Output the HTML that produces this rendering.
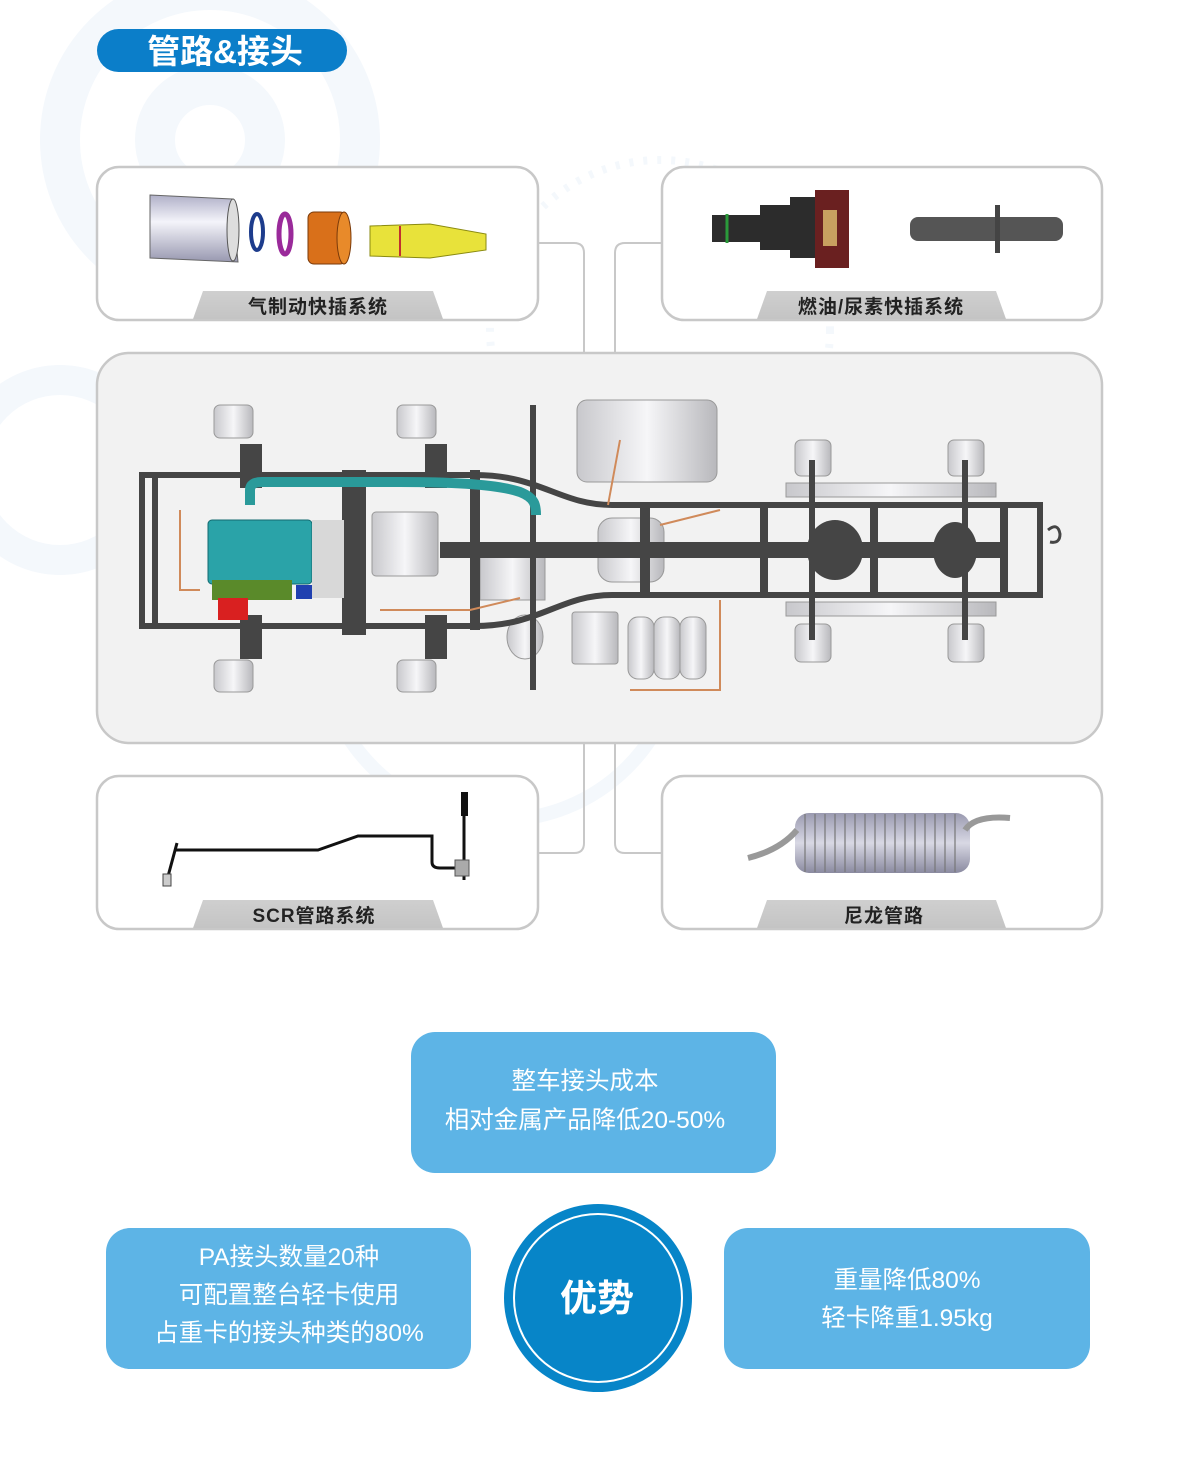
<!DOCTYPE html>
<html><head><meta charset="utf-8"><style>
body{margin:0;background:#fff;width:1200px;height:1478px;overflow:hidden;font-family:"Liberation Sans","Noto Sans CJK SC",sans-serif}
svg{display:block}
</style></head><body>
<svg width="1200" height="1478" viewBox="0 0 1200 1478" xmlns="http://www.w3.org/2000/svg" font-family="'Liberation Sans','Noto Sans CJK SC',sans-serif">
<defs>
<linearGradient id="tab" x1="0" y1="0" x2="0" y2="1"><stop offset="0" stop-color="#cfcfcf"/><stop offset="1" stop-color="#c4c4c4"/></linearGradient>
<linearGradient id="cyl" x1="0" y1="0" x2="0" y2="1"><stop offset="0" stop-color="#b0b0c8"/><stop offset=".4" stop-color="#f4f4fa"/><stop offset="1" stop-color="#9898b0"/></linearGradient>
<linearGradient id="wh" x1="0" y1="0" x2="1" y2="0"><stop offset="0" stop-color="#c8c8cc"/><stop offset=".5" stop-color="#f6f6f8"/><stop offset="1" stop-color="#b8b8bc"/></linearGradient>
<linearGradient id="coil" x1="0" y1="0" x2="0" y2="1"><stop offset="0" stop-color="#9a9ab0"/><stop offset=".5" stop-color="#d8d8e4"/><stop offset="1" stop-color="#8a8aa0"/></linearGradient>
</defs>
<!-- faint background gears -->
<g fill="none" stroke="#f4f8fc">
<circle cx="210" cy="140" r="150" stroke-width="40"/>
<circle cx="210" cy="140" r="55" stroke-width="40"/>
<circle cx="660" cy="330" r="170" stroke-width="8" stroke-dasharray="4 10"/>
<circle cx="60" cy="470" r="90" stroke-width="30"/>
<circle cx="500" cy="640" r="180" stroke-width="14"/>
</g>
<!-- title -->
<rect x="97" y="29" width="250" height="43" rx="21.5" fill="#0b7ec9"/>
<text x="225" y="63" text-anchor="middle" font-size="33" font-weight="bold" fill="#fff">管路&amp;接头</text>
<!-- connectors -->
<g fill="none" stroke="#c8c8c8" stroke-width="2">
<path d="M538 243 H574 Q584 243 584 253 V353"/>
<path d="M662 243 H625 Q615 243 615 253 V353"/>
<path d="M584 743 V843 Q584 853 574 853 H538"/>
<path d="M615 743 V843 Q615 853 625 853 H662"/>
</g>
<!-- boxes -->
<g fill="#fff" stroke="#c8c8c8" stroke-width="2.5">
<rect x="97" y="167" width="441" height="153" rx="22"/>
<rect x="662" y="167" width="440" height="153" rx="22"/>
<rect x="97" y="776" width="441" height="153" rx="22"/>
<rect x="662" y="776" width="440" height="153" rx="22"/>
</g>
<rect x="97" y="353" width="1005" height="390" rx="32" fill="#f2f2f2" stroke="#c8c8c8" stroke-width="2.5"/>
<!-- tabs -->
<g fill="url(#tab)">
<path d="M203 291 H433 L443 319 H193 Z"/>
<path d="M767 291 H996 L1006 319 H757 Z"/>
<path d="M203 900 H433 L443 928 H193 Z"/>
<path d="M767 900 H996 L1006 928 H757 Z"/>
</g>
<g font-size="19" font-weight="bold" fill="#222" text-anchor="middle" letter-spacing="1">
<text x="318" y="313">气制动快插系统</text>
<text x="881" y="313">燃油/尿素快插系统</text>
<text x="314" y="922">SCR管路系统</text>
<text x="884" y="922">尼龙管路</text>
</g>
<!-- box1 parts -->
<path d="M150 195 L232 199 L238 262 L150 258 Z" fill="url(#cyl)" stroke="#666" stroke-width="1"/>
<ellipse cx="233" cy="230" rx="6" ry="31" fill="#ddd" stroke="#555"/>
<ellipse cx="257" cy="232" rx="6" ry="18" fill="none" stroke="#1d3c8c" stroke-width="4"/>
<ellipse cx="285" cy="234" rx="6" ry="20" fill="none" stroke="#9a2a9a" stroke-width="5"/>
<rect x="308" y="212" width="38" height="52" rx="6" fill="#d9701a" stroke="#7a3a0a"/>
<ellipse cx="344" cy="238" rx="7" ry="26" fill="#e88a2a" stroke="#7a3a0a"/>
<path d="M370 226 L430 224 L486 234 L486 250 L430 258 L370 256 Z" fill="#e8e23a" stroke="#8a8a10"/>
<line x1="400" y1="226" x2="400" y2="256" stroke="#c03030" stroke-width="2"/>
<!-- box2 parts -->
<path d="M712 215 H760 V205 H790 V197 H816 V258 H790 V250 H760 V242 H712 Z" fill="#2c2c2c"/>
<line x1="727" y1="214" x2="727" y2="243" stroke="#2a9a3a" stroke-width="3"/>
<rect x="815" y="190" width="34" height="78" fill="#6a2020"/>
<rect x="823" y="210" width="14" height="36" fill="#c8a060"/>
<rect x="910" y="217" width="153" height="24" rx="8" fill="#555"/>
<rect x="995" y="205" width="5" height="48" fill="#444"/>
<!-- box3 scr pipe -->
<g fill="none" stroke="#111" stroke-width="3">
<path d="M177 843 L167 880"/>
<path d="M176 850 H318 L358 836 H432 V862 Q432 868 440 868 H455"/>
<path d="M464 796 V880"/>
</g>
<rect x="461" y="792" width="7" height="24" fill="#111"/>
<rect x="455" y="860" width="14" height="16" fill="#aaa" stroke="#555"/>
<rect x="163" y="874" width="8" height="12" fill="#ccc" stroke="#444"/>
<!-- box4 coil -->
<rect x="795" y="813" width="175" height="60" rx="14" fill="url(#coil)"/>
<g stroke="#777" stroke-width="1.2">
<line x1="805" y1="814" x2="805" y2="872"/><line x1="815" y1="814" x2="815" y2="872"/><line x1="825" y1="814" x2="825" y2="872"/><line x1="835" y1="814" x2="835" y2="872"/><line x1="845" y1="814" x2="845" y2="872"/><line x1="855" y1="814" x2="855" y2="872"/><line x1="865" y1="814" x2="865" y2="872"/><line x1="875" y1="814" x2="875" y2="872"/><line x1="885" y1="814" x2="885" y2="872"/><line x1="895" y1="814" x2="895" y2="872"/><line x1="905" y1="814" x2="905" y2="872"/><line x1="915" y1="814" x2="915" y2="872"/><line x1="925" y1="814" x2="925" y2="872"/><line x1="935" y1="814" x2="935" y2="872"/><line x1="945" y1="814" x2="945" y2="872"/><line x1="955" y1="814" x2="955" y2="872"/>
</g>
<path d="M797 830 Q780 850 748 858" fill="none" stroke="#999" stroke-width="6"/>
<path d="M965 830 Q975 815 1010 818" fill="none" stroke="#999" stroke-width="6"/>
<!-- chassis -->
<g>
<g fill="url(#wh)" stroke="#999" stroke-width="1">
<rect x="214" y="405" width="39" height="33" rx="6"/><rect x="397" y="405" width="39" height="33" rx="6"/>
<rect x="214" y="660" width="39" height="32" rx="6"/><rect x="397" y="660" width="39" height="32" rx="6"/>
<rect x="795" y="440" width="36" height="36" rx="6"/><rect x="948" y="440" width="36" height="36" rx="6"/>
<rect x="795" y="624" width="36" height="38" rx="6"/><rect x="948" y="624" width="36" height="38" rx="6"/>
<rect x="577" y="400" width="140" height="82" rx="10"/>
<rect x="598" y="518" width="66" height="64" rx="14"/>
<rect x="628" y="617" width="26" height="62" rx="10"/><rect x="654" y="617" width="26" height="62" rx="10"/><rect x="680" y="617" width="26" height="62" rx="10"/>
<rect x="572" y="612" width="46" height="52" rx="3"/>
<rect x="480" y="548" width="65" height="52"/>
<rect x="372" y="512" width="66" height="64" rx="4"/>
<ellipse cx="525" cy="637" rx="18" ry="22"/>
<rect x="786" y="483" width="210" height="14"/><rect x="786" y="602" width="210" height="14"/>
</g>
<g fill="none" stroke="#454545" stroke-width="6">
<path d="M139 475 H475 C540 475 560 505 612 505 H1040"/>
<path d="M139 626 H475 C540 626 560 595 612 595 H1040"/>
<line x1="142" y1="472" x2="142" y2="629"/>
<line x1="155" y1="472" x2="155" y2="629"/>
<line x1="1040" y1="502" x2="1040" y2="598"/>
</g>
<g fill="#454545">
<rect x="240" y="444" width="22" height="44"/><rect x="425" y="444" width="22" height="44"/>
<rect x="240" y="615" width="22" height="44"/><rect x="425" y="615" width="22" height="44"/>
<rect x="342" y="470" width="24" height="165"/>
<rect x="470" y="470" width="10" height="160"/>
<rect x="530" y="405" width="6" height="285"/>
<rect x="640" y="505" width="10" height="92"/>
<rect x="760" y="505" width="8" height="92"/><rect x="870" y="505" width="8" height="92"/><rect x="1000" y="505" width="8" height="92"/>
<rect x="809" y="460" width="6" height="180"/><rect x="962" y="460" width="6" height="180"/>
<rect x="440" y="542" width="560" height="16"/>
<ellipse cx="835" cy="550" rx="28" ry="30"/>
<ellipse cx="955" cy="550" rx="22" ry="28"/>
</g>
<rect x="208" y="520" width="104" height="64" rx="4" fill="#2aa3a8" stroke="#146a70"/>
<rect x="212" y="580" width="80" height="20" fill="#5a8a2a"/>
<rect x="218" y="598" width="30" height="22" fill="#d92020"/>
<rect x="296" y="585" width="16" height="14" fill="#2040b0"/>
<rect x="312" y="520" width="32" height="78" fill="#d8d8d8"/>
<path d="M250 505 V490 Q250 482 262 482 H400 C460 482 500 485 520 492 C535 498 536 505 536 515" fill="none" stroke="#2a9a9a" stroke-width="10"/>
<g fill="none" stroke="#d08a5a" stroke-width="2">
<path d="M180 510 V590 H200"/><path d="M620 440 L608 505"/><path d="M720 600 V690 H630"/><path d="M380 610 H470 L520 598"/><path d="M660 525 L720 510"/>
</g>
<path d="M1048 530 q10 -8 12 4 q0 10 -10 8" fill="none" stroke="#454545" stroke-width="3"/>
</g>
<!-- advantages -->
<g fill="#5db4e6">
<rect x="411" y="1032" width="365" height="141" rx="24"/>
<rect x="106" y="1228" width="365" height="141" rx="24"/>
<rect x="724" y="1228" width="366" height="141" rx="24"/>
</g>
<g font-size="24.5" fill="#fff" text-anchor="middle">
<text x="585" y="1089">整车接头成本</text>
<text x="585" y="1128">相对金属产品降低20-50%</text>
<text x="289" y="1265">PA接头数量20种</text>
<text x="289" y="1303">可配置整台轻卡使用</text>
<text x="289" y="1341">占重卡的接头种类的80%</text>
<text x="907" y="1288">重量降低80%</text>
<text x="907" y="1326">轻卡降重1.95kg</text>
</g>
<circle cx="598" cy="1298" r="94" fill="#0785c8"/>
<circle cx="598" cy="1298" r="84" fill="none" stroke="#fff" stroke-width="2"/>
<text x="597" y="1311" text-anchor="middle" font-size="37" font-weight="bold" fill="#fff">优势</text>
</svg>
</body></html>
